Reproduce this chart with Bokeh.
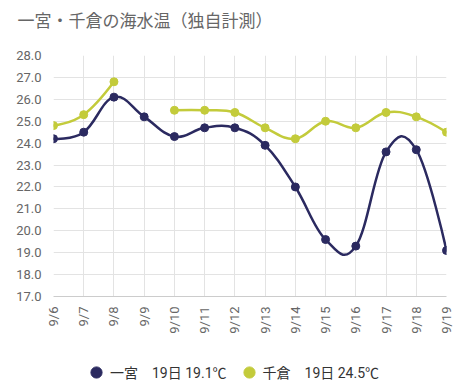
from bokeh.plotting import figure
from bokeh.layouts import column
from bokeh.models import Range1d, FixedTicker, Legend, LegendItem, NumeralTickFormatter
from bokeh.embed import file_html
from bokeh.resources import INLINE

dates = ["9/6", "9/7", "9/8", "9/9", "9/10", "9/11", "9/12", "9/13",
         "9/14", "9/15", "9/16", "9/17", "9/18", "9/19"]
ichinomiya = [24.2, 24.5, 26.1, 25.2, 24.3, 24.7, 24.7, 23.9,
              22.0, 19.6, 19.3, 23.6, 23.7, 19.1]
chikura = [24.8, 25.3, 26.8, None, 25.5, 25.5, 25.4, 24.7,
           24.2, 25.0, 24.7, 25.4, 25.2, 24.5]
series_names = ["一宮　19日 19.1℃", "千倉　19日 24.5℃"]
colors = ["#2b2a60", "#c3cb3b"]
y_ticks = [17, 18, 19, 20, 21, 22, 23, 24, 25, 26, 27, 28]
chart_title = "一宮・千倉の海水温（独自計測）"

FONT = "Roboto, 'Noto Sans CJK JP', sans-serif"


def spline_segments(xs, ys, smoothing=1.5):
    """Spline through the points: cubic bezier control points per segment."""
    n = len(xs)
    left = [None] * n
    right = [None] * n
    denom = smoothing + 1
    for i in range(n):
        px, py = xs[i], ys[i]
        if i == 0 or i == n - 1:
            left[i] = (px, py)
            right[i] = (px, py)
            continue
        lx, ly = xs[i - 1], ys[i - 1]
        nx, ny = xs[i + 1], ys[i + 1]
        lcx = (smoothing * px + lx) / denom
        lcy = (smoothing * py + ly) / denom
        rcx = (smoothing * px + nx) / denom
        rcy = (smoothing * py + ny) / denom
        if rcx != lcx:
            corr = ((rcy - lcy) * (rcx - px)) / (rcx - lcx) + py - rcy
            lcy += corr
            rcy += corr
        left[i] = (lcx, lcy)
        right[i] = (rcx, rcy)
    segs = dict(x0=[], y0=[], x1=[], y1=[], cx0=[], cy0=[], cx1=[], cy1=[])
    for i in range(1, n):
        segs["x0"].append(xs[i - 1]); segs["y0"].append(ys[i - 1])
        segs["x1"].append(xs[i]); segs["y1"].append(ys[i])
        segs["cx0"].append(right[i - 1][0]); segs["cy0"].append(right[i - 1][1])
        segs["cx1"].append(left[i][0]); segs["cy1"].append(left[i][1])
    return segs


def runs(values):
    out, cur = [], []
    for i, v in enumerate(values):
        if v is None:
            if cur:
                out.append(cur)
            cur = []
        else:
            cur.append(i)
    if cur:
        out.append(cur)
    return out


def blank(height, title=None):
    f = figure(width=473, height=height, min_border=0, title=title,
               x_range=Range1d(0, 1), y_range=Range1d(0, 1),
               x_axis_location=None, y_axis_location=None,
               output_backend="svg", toolbar_location=None)
    f.outline_line_color = None
    f.grid.visible = False
    f.background_fill_color = "white"
    f.border_fill_color = "white"
    return f


# ---- title strip ----
p0 = blank(44, title=chart_title)
p0.title.text_font = FONT
p0.title.text_font_size = "17px"
p0.title.text_font_style = "normal"
p0.title.text_color = "#666666"
p0.title.offset = -36
p0.title.standoff = 16

# ---- main chart ----
p = figure(width=473, height=308,
           min_border_left=53, min_border_top=11, min_border_right=27, min_border_bottom=56,
           x_range=Range1d(0, len(dates) - 1), y_range=Range1d(17, 28),
           output_backend="svg", toolbar_location=None)
p.background_fill_color = "white"
p.border_fill_color = "white"
p.outline_line_color = None

p.xaxis.ticker = FixedTicker(ticks=list(range(len(dates))))
p.xaxis.major_label_overrides = {i: d for i, d in enumerate(dates)}
p.xaxis.major_label_orientation = 1.5708
p.xaxis.major_label_text_font = FONT
p.xaxis.major_label_text_font_size = "13px"
p.xaxis.major_label_text_color = "#666666"
p.xaxis.axis_line_color = "#cccccc"
p.xaxis.major_tick_line_color = None
p.xaxis.minor_tick_line_color = None
p.xaxis.major_tick_out = 0
p.xaxis.major_label_standoff = 10

p.yaxis.ticker = FixedTicker(ticks=y_ticks)
p.yaxis.formatter = NumeralTickFormatter(format="0.0")
p.yaxis.major_label_text_font = FONT
p.yaxis.major_label_text_font_size = "13px"
p.yaxis.major_label_text_color = "#666666"
p.yaxis.axis_line_color = None
p.yaxis.major_tick_line_color = None
p.yaxis.minor_tick_line_color = None
p.yaxis.major_tick_out = 0
p.yaxis.major_label_standoff = 12

p.xgrid.grid_line_color = "#e3e3e3"
p.ygrid.grid_line_color = "#e3e3e3"

for vals, col in zip([ichinomiya, chikura], colors):
    for r in runs(vals):
        xs = [float(i) for i in r]
        ys = [vals[i] for i in r]
        if len(xs) > 1:
            segs = spline_segments(xs, ys)
            p.bezier(source=segs, x0="x0", y0="y0", x1="x1", y1="y1",
                     cx0="cx0", cy0="cy0", cx1="cx1", cy1="cy1",
                     line_color=col, line_width=2.5, line_cap="round")
    xi = [i for i, v in enumerate(vals) if v is not None]
    yi = [vals[i] for i in xi]
    p.scatter(xi, yi, size=8, marker="circle", fill_color=col, line_color=col)

# ---- legend strip ----
p2 = blank(34)
legend_items = []
for name, col in zip(series_names, colors):
    # one off-range point so the legend has a glyph to draw
    r = p2.scatter(x=[-10], y=[-10], marker="circle", fill_color=col, line_color=col)
    legend_items.append(LegendItem(label=name, renderers=[r]))

legend = Legend(items=legend_items, orientation="horizontal",
                label_text_font=FONT, label_text_font_size="14px",
                label_text_color="#333333", border_line_color=None,
                background_fill_alpha=0, glyph_width=28, glyph_height=28,
                label_height=28,
                spacing=8, label_standoff=0, padding=0, margin=0,
                location=(29, 0))
p2.add_layout(legend, "center")

layout = column(p0, p, p2, spacing=0)

open("out.html", "w").write(file_html(layout, INLINE))
